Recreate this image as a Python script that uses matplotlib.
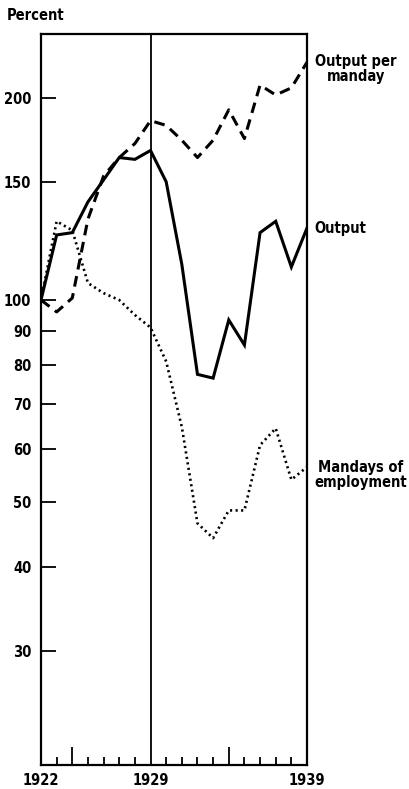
import matplotlib
matplotlib.use("Agg")
import matplotlib.pyplot as plt
from matplotlib.ticker import FixedLocator, NullLocator, NullFormatter

years = list(range(1922, 1940))
output = [100, 125, 126, 140, 151, 163, 162, 167, 150, 113, 77.5, 76.5, 93.4, 85.7, 126, 131, 112, 128]
output_per_manday = [100, 96, 100.7, 132, 153, 163, 171, 185, 182, 173, 163, 173, 192, 174, 209, 202, 207, 226]
mandays = [100, 131, 127, 106, 102.4, 100, 95, 91, 81, 64.7, 46.5, 44.2, 48.6, 48.6, 60.8, 64.4, 54, 56.4]

y_ticks = [30, 40, 50, 60, 70, 80, 90, 100, 150, 200]
x_labels = {1922: "1922", 1929: "1929", 1939: "1939"}
major_years = [1924, 1934]

plt.rcParams["font.family"] = ["DejaVu Sans"]
plt.rcParams["font.weight"] = "bold"
plt.rcParams["font.stretch"] = "condensed"

FS = 10.5

fig = plt.figure(figsize=(4.1, 7.89), dpi=100)
ax = fig.add_axes([41/410, 24/789, 266/410, 731/789])

ax.set_yscale("log")
ax.set_ylim(20.3, 249)
ax.set_xlim(1922, 1939)

ax.plot(years, output, color="black", lw=2.2, solid_joinstyle="miter")
ax.plot(years, output_per_manday, color="black", lw=2.2, linestyle=(0, (3.5, 2.2)))
ax.plot(years, mandays, color="black", lw=1.9, linestyle=(0, (0.8, 1.3)))

ax.axvline(1929, color="black", lw=1.3)

for s in ax.spines.values():
    s.set_linewidth(1.6)

ax.yaxis.set_major_locator(FixedLocator(y_ticks))
ax.yaxis.set_minor_locator(NullLocator())
ax.yaxis.set_minor_formatter(NullFormatter())
ax.set_yticklabels([str(v) for v in y_ticks])
ax.tick_params(axis="y", direction="in", length=11, width=1.3, labelsize=FS, pad=7)

ax.set_xticks(years)
ax.set_xticklabels([x_labels.get(y, "") for y in years])
ax.tick_params(axis="x", direction="in", length=6, width=1.3, labelsize=FS, pad=6)
for t, y in zip(ax.xaxis.get_major_ticks(), years):
    if y in major_years:
        t.tick1line.set_markersize(13)
    if y in (1922, 1929, 1939):
        t.tick1line.set_markersize(0)

for lbl in ax.get_xticklabels() + ax.get_yticklabels():
    lbl.set_fontweight("bold")
    lbl.set_fontstretch("condensed")

fig.text(7/410, 1 - 15/789, "Percent", fontsize=FS, fontweight="bold",
         fontstretch="condensed", va="center", ha="left")

ax.annotate("Output per\nmanday", xy=(1939, output_per_manday[-1]), xytext=(6, -5),
            textcoords="offset points", fontsize=FS, fontweight="bold", fontstretch="condensed",
            va="center", ha="left", linespacing=1.0, multialignment="center")
ax.annotate("Output", xy=(1939, output[-1]), xytext=(5, 0),
            textcoords="offset points", fontsize=FS, fontweight="bold", fontstretch="condensed",
            va="center", ha="left")
ax.annotate("Mandays of\nemployment", xy=(1939, mandays[-1]), xytext=(5, -6),
            textcoords="offset points", fontsize=FS, fontweight="bold", fontstretch="condensed",
            va="center", ha="left", linespacing=1.0, multialignment="center")

fig.savefig("out.png", dpi=100)
